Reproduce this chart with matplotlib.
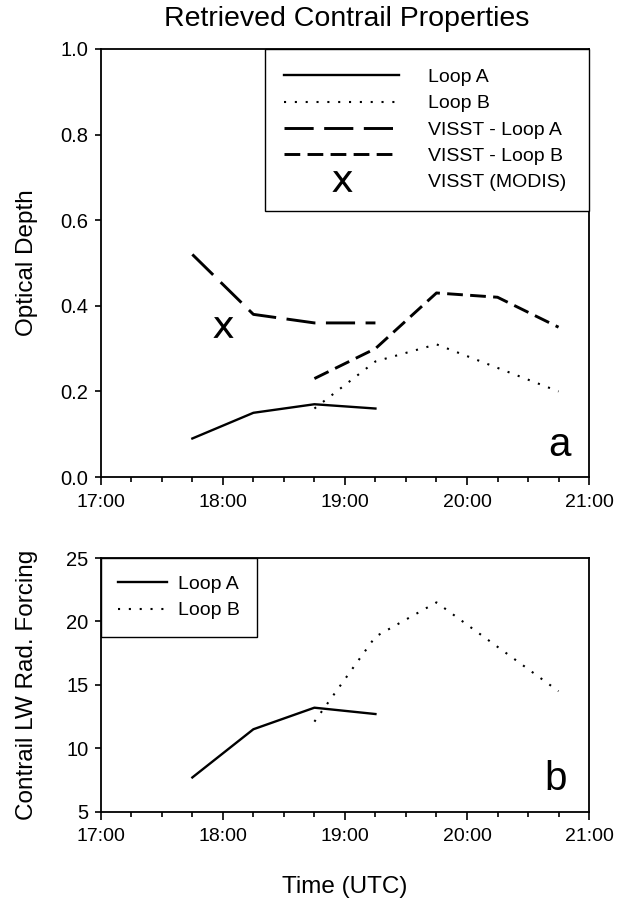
import matplotlib
matplotlib.use("Agg")
import matplotlib.pyplot as plt
from matplotlib.ticker import MultipleLocator, FuncFormatter

plt.rcParams['font.family'] = ['Liberation Sans', 'DejaVu Sans']

# times in decimal hours (UTC)
t_loop_a = [17.75, 18.25, 18.75, 19.25]
t_loop_b = [18.75, 19.25, 19.75, 20.75]
t_visst_a = [17.75, 18.25, 18.75, 19.25]
t_visst_b = [18.75, 19.25, 19.75, 20.25, 20.75]
t_modis = [18.0]

# panel a: optical depth
od_loop_a = [0.09, 0.15, 0.17, 0.16]
od_loop_b = [0.16, 0.27, 0.31, 0.20]
od_visst_a = [0.52, 0.38, 0.36, 0.36]
od_visst_b = [0.23, 0.30, 0.43, 0.42, 0.35]
od_modis = [0.35]

# panel b: contrail LW radiative forcing
rf_loop_a = [7.7, 11.5, 13.2, 12.7]
rf_loop_b = [12.1, 18.8, 21.5, 14.5]

fig = plt.figure(figsize=(6.3, 8.99), dpi=100)
ax1 = fig.add_axes([0.160, 0.4694, 0.775, 0.4761])
ax2 = fig.add_axes([0.160, 0.0971, 0.775, 0.2822])

ax1.plot(t_loop_a, od_loop_a, color='black', lw=1.7, label='Loop A')
ax1.plot(t_loop_b, od_loop_b, color='black', lw=1.5, dashes=(1, 4.2), label='Loop B')
ax1.plot(t_visst_a, od_visst_a, color='black', lw=2.1, dashes=(10, 3.6), label='VISST - Loop A')
ax1.plot(t_visst_b, od_visst_b, color='black', lw=2.1, dashes=(5.4, 2.5), label='VISST - Loop B')
ax1.plot(t_modis, od_modis, ls='none', marker=r'$\mathsf{x}$', color='black',
         markersize=15, markeredgewidth=0, label='VISST (MODIS)')

ax2.plot(t_loop_a, rf_loop_a, color='black', lw=1.7, label='Loop A')
ax2.plot(t_loop_b, rf_loop_b, color='black', lw=1.5, dashes=(1, 4.2), label='Loop B')

fmt = FuncFormatter(lambda v, p: '%d:00' % round(v))
for ax in (ax1, ax2):
    ax.set_xlim(17, 21)
    ax.xaxis.set_major_locator(MultipleLocator(1))
    ax.xaxis.set_minor_locator(MultipleLocator(0.25))
    ax.xaxis.set_major_formatter(fmt)
    ax.tick_params(axis='x', which='major', direction='out', length=6, width=1.2,
                   labelsize=14, pad=6)
    ax.tick_params(axis='x', which='minor', direction='out', length=3.5, width=1.2)
    ax.tick_params(axis='y', direction='out', length=4, width=1.2, labelsize=14.5, pad=5)
    for s in ax.spines.values():
        s.set_linewidth(1.3)

ax1.set_ylim(0, 1.0)
ax1.yaxis.set_major_locator(MultipleLocator(0.2))
ax1.yaxis.set_major_formatter(FuncFormatter(lambda v, p: '%.1f' % v))
ax2.set_ylim(5, 25)
ax2.yaxis.set_major_locator(MultipleLocator(5))

ax1.set_ylabel('Optical Depth', fontsize=17.5)
ax1.yaxis.set_label_coords(-0.128, 0.5)
ax2.set_ylabel('Contrail LW Rad. Forcing', fontsize=17.5)
ax2.yaxis.set_label_coords(-0.128, 0.5)
ax2.set_xlabel('Time (UTC)', fontsize=17.5)
ax2.xaxis.set_label_coords(0.5, -0.255)

ax1.text(0.962, 0.05, 'a', transform=ax1.transAxes, ha='right', va='baseline', fontsize=29)
ax2.text(0.955, 0.085, 'b', transform=ax2.transAxes, ha='right', va='baseline', fontsize=29)

leg1 = ax1.legend(loc='upper right', bbox_to_anchor=(0.336, 0.624, 0.664, 0.376),
                  mode='expand', borderaxespad=0, fontsize=14, handlelength=5.9,
                  handletextpad=1.5, labelspacing=0.45, borderpad=1.0, numpoints=1,
                  fancybox=False, edgecolor='black', framealpha=1)
leg1.get_frame().set_linewidth(1.0)

leg2 = ax2.legend(loc='upper left', bbox_to_anchor=(0, 1), borderaxespad=0,
                  fontsize=14, handlelength=2.5, handletextpad=0.55, labelspacing=0.45,
                  borderpad=0.9, fancybox=False, edgecolor='black', framealpha=1)
leg2.get_frame().set_linewidth(1.0)

fig.text(0.551, 0.979, 'Retrieved Contrail Properties', ha='center', va='center', fontsize=20.5)

fig.savefig('out.png', dpi=100)
